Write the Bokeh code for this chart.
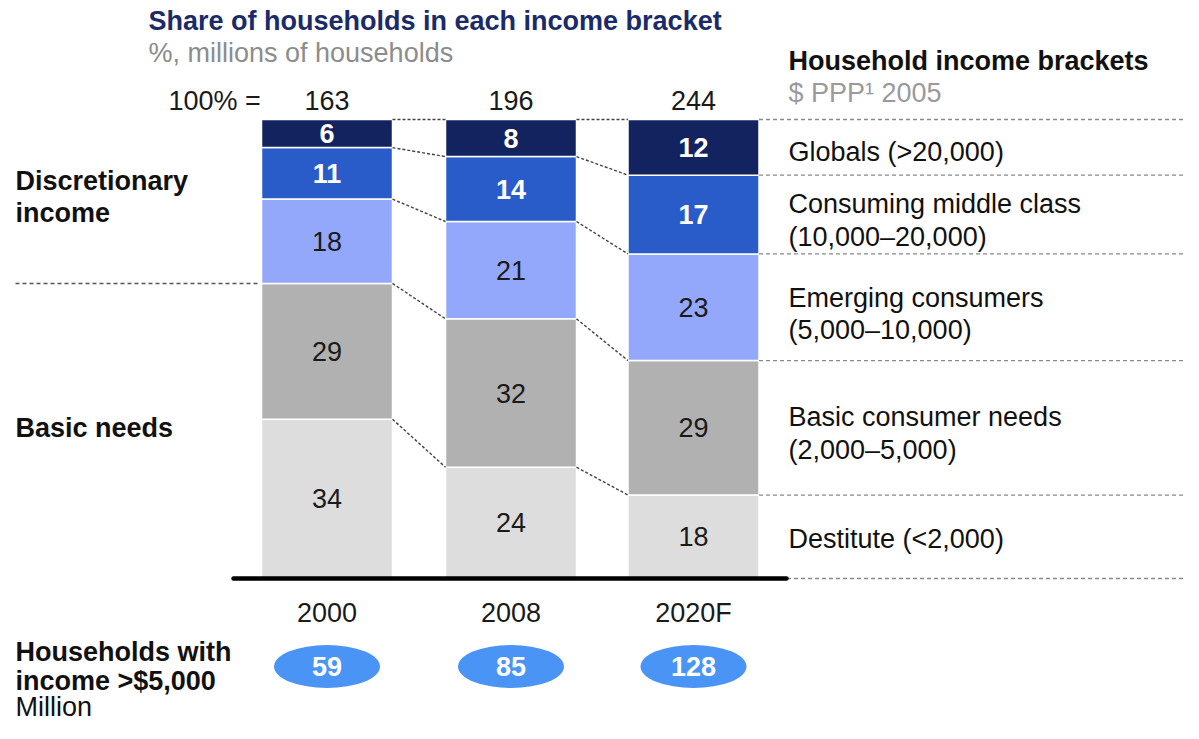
from bokeh.plotting import figure
from bokeh.models import Range1d
from bokeh.core.properties import value
from bokeh.embed import file_html
from bokeh.resources import INLINE

# ---------------- data ----------------
years = ["2000", "2008", "2020F"]
totals = [163, 196, 244]                     # millions of households (100% =)
globals_ = [6, 8, 12]                        # >20,000
middle = [11, 14, 17]                        # 10,000-20,000
emerging = [18, 21, 23]                      # 5,000-10,000
basic = [29, 32, 29]                         # 2,000-5,000
destitute = [34, 24, 18]                     # <2,000
over_5000 = [59, 85, 128]                    # households with income > $5,000, million

# ---------------- layout / style ----------------
W, H = 1183, 723
PX_PER_PCT = 4.59
BASE_PY = 578            # screen y of 0 %
def yv(py):              # screen y (px from top of figure) -> data (percent) coordinate
    return (BASE_PY - py) / PX_PER_PCT
def xv(px):              # screen x -> data coordinate
    return px

bar_x = [xv(326.5), xv(510.5), xv(693)]
bar_w = 131
colors = ["#DDDDDD", "#B1B1B1", "#94A8FB", "#2A5CC9", "#13235F"]
lab_color = ["#1a1a1a", "#1a1a1a", "#1a1a1a", "white", "white"]
lab_style = ["normal", "normal", "normal", "bold", "bold"]
FONT = value("Liberation Sans")
FS = "27px"

p = figure(width=W, height=H, output_backend="svg", toolbar_location=None,
           x_range=Range1d(0, W), y_range=Range1d(yv(H), yv(0)),
           x_axis_location=None, y_axis_location=None, min_border=0,
           outline_line_color=None, background_fill_color="white")
p.grid.visible = False

series = [destitute, basic, emerging, middle, globals_]

# normalised stacks (each column fills 100 %)
bottoms, tops = [], []
for i in range(len(years)):
    s = sum(ser[i] for ser in series)
    cum = 0.0
    b_col, t_col = [], []
    for ser in series:
        b_col.append(cum)
        cum += ser[i] / s * 100
        t_col.append(cum)
    bottoms.append(b_col)
    tops.append(t_col)

# bars
for k, ser in enumerate(series):
    b = [bottoms[i][k] for i in range(len(years))]
    t = [tops[i][k] for i in range(len(years))]
    p.vbar(x=bar_x, width=bar_w, bottom=b, top=t, fill_color=colors[k],
           line_color="white", line_width=1.5)
    p.text(x=bar_x, y=[(bb + tt) / 2 for bb, tt in zip(b, t)],
           text=[str(v) for v in ser], text_align="center", text_baseline="middle",
           text_font=FONT, text_font_size=FS, text_font_style=lab_style[k],
           text_color=lab_color[k])

# connectors between bars
for i in range(len(years) - 1):
    for k in range(len(series)):
        p.line([bar_x[i] + bar_w / 2, bar_x[i + 1] - bar_w / 2],
               [tops[i][k], tops[i + 1][k]],
               line_color="#444444", line_width=1.4, line_dash="3 2")

# right dashed guides at last column boundaries
last = len(years) - 1
right_levels = [0.0] + tops[last]
for lv in right_levels:
    p.line([bar_x[last] + bar_w / 2, W], [lv, lv], line_color="#8a8a8a",
           line_width=1.3, line_dash="4 3")

# left dashed divider (discretionary vs basic)
p.line([xv(15), bar_x[0] - bar_w / 2 - 3], [tops[0][1], tops[0][1]],
       line_color="#555555", line_width=1.4, line_dash="4 3")

# baseline
p.line([xv(233), xv(786)], [0, 0], line_color="black", line_width=4.5,
       line_cap="round")

# totals row
p.text(x=[xv(168)], y=[yv(100)], text=["100% ="], text_align="left",
       text_baseline="middle", text_font=FONT, text_font_size=FS, text_color="#1a1a1a")
p.text(x=bar_x, y=[yv(100)] * 3, text=[str(t) for t in totals], text_align="center",
       text_baseline="middle", text_font=FONT, text_font_size=FS, text_color="#1a1a1a")

# year labels
p.text(x=bar_x, y=[yv(612)] * 3, text=years, text_align="center",
       text_baseline="middle", text_font=FONT, text_font_size=FS, text_color="#1a1a1a")

# ellipses with >$5,000 households
p.ellipse(x=bar_x, y=[yv(666)] * 3, width=106, height=43 / PX_PER_PCT,
          fill_color="#4A94F6", line_color=None)
p.text(x=bar_x, y=[yv(666)] * 3, text=[str(v) for v in over_5000], text_align="center",
       text_baseline="middle", text_font=FONT, text_font_size=FS,
       text_font_style="bold", text_color="white")

# titles
p.text(x=[xv(148)], y=[yv(20)], text=["Share of households in each income bracket"],
       text_baseline="middle", text_font=FONT, text_font_size=FS,
       text_font_style="bold", text_color="#1B2A68")
p.text(x=[xv(148)], y=[yv(52)], text=["%, millions of households"],
       text_baseline="middle", text_font=FONT, text_font_size=FS, text_color="#8C8C8C")
p.text(x=[xv(788)], y=[yv(60)], text=["Household income brackets"],
       text_baseline="middle", text_font=FONT, text_font_size=FS,
       text_font_style="bold", text_color="#111111")
p.text(x=[xv(788)], y=[yv(92)], text=["$ PPP¹ 2005"],
       text_baseline="middle", text_font=FONT, text_font_size=FS, text_color="#9A9A9A")

# bracket labels on the right
right_lines = [
    (151, "Globals (>20,000)"),
    (203, "Consuming middle class"), (236, "(10,000–20,000)"),
    (297, "Emerging consumers"), (329, "(5,000–10,000)"),
    (416, "Basic consumer needs"), (449, "(2,000–5,000)"),
    (538, "Destitute (<2,000)"),
]
p.text(x=[xv(788)] * len(right_lines), y=[yv(py) for py, _ in right_lines],
       text=[t for _, t in right_lines], text_baseline="middle", text_font=FONT,
       text_font_size=FS, text_color="#111111")

# left group labels
left_bold = [(180, "Discretionary"), (212, "income"), (427, "Basic needs"),
             (651, "Households with"), (680, "income >$5,000")]
p.text(x=[xv(15)] * len(left_bold), y=[yv(py) for py, _ in left_bold],
       text=[t for _, t in left_bold], text_baseline="middle", text_font=FONT,
       text_font_size=FS, text_font_style="bold", text_color="#111111")
p.text(x=[xv(15)], y=[yv(706)], text=["Million"], text_baseline="middle",
       text_font=FONT, text_font_size=FS, text_color="#111111")

open("out.html", "w").write(file_html(p, INLINE))
